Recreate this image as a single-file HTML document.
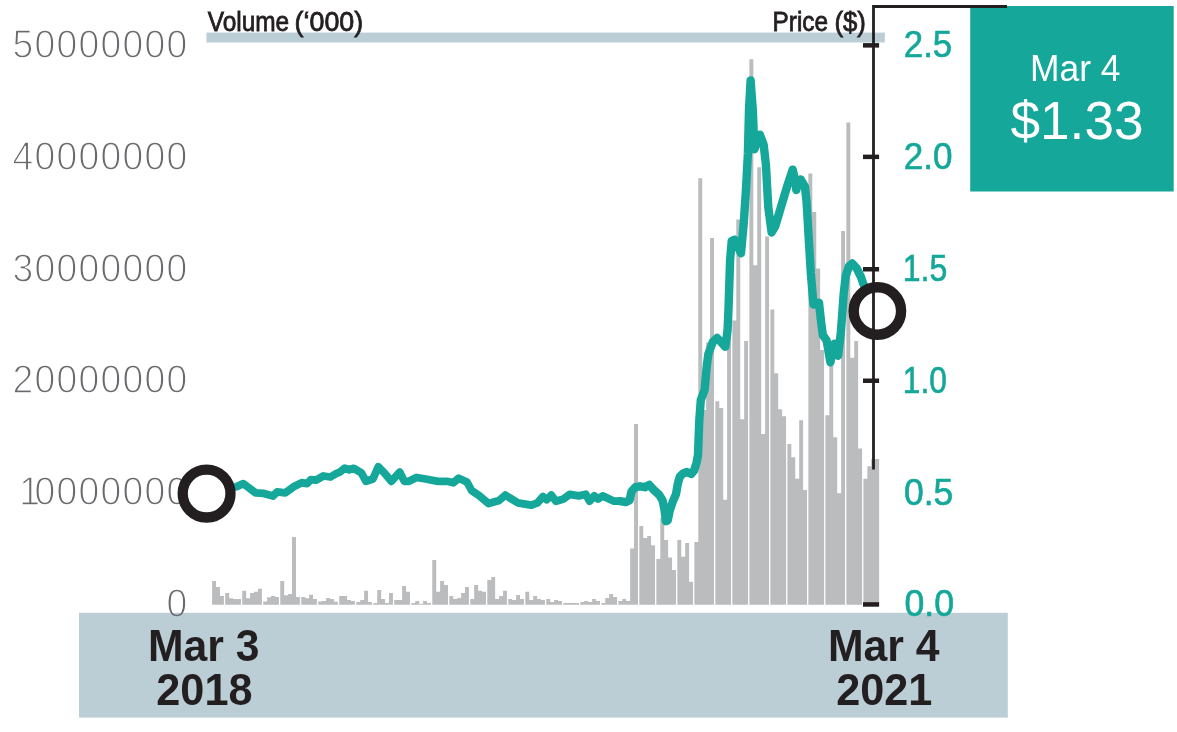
<!DOCTYPE html>
<html lang="en"><head><meta charset="utf-8"><title>Share price chart</title>
<style>html,body{margin:0;padding:0;background:#fff;}body{width:1177px;height:732px;overflow:hidden;font-family:"Liberation Sans",sans-serif;}</style>
</head><body>
<svg width="1177" height="732" viewBox="0 0 1177 732" style="display:block;font-family:'Liberation Sans',sans-serif">
<rect width="1177" height="732" fill="#fff"/>
<rect x="206.5" y="32.6" width="678.3" height="9.9" fill="#bbcdd5" transform="scale(1)"/>
<rect x="79" y="612.8" width="928.8" height="104.8" fill="#bbcdd5"/>
<g stroke="#fff"><text  transform="translate(12.6,57.9) scale(0.91,1)" font-size="41" fill="#696a6d" stroke-width="1.3" textLength="191.88" lengthAdjust="spacing">50000000</text></g>
<g stroke="#fff"><text  transform="translate(12.6,169.7) scale(0.91,1)" font-size="41" fill="#696a6d" stroke-width="1.3" textLength="191.88" lengthAdjust="spacing">40000000</text></g>
<g stroke="#fff"><text  transform="translate(12.6,281.5) scale(0.91,1)" font-size="41" fill="#696a6d" stroke-width="1.3" textLength="191.88" lengthAdjust="spacing">30000000</text></g>
<g stroke="#fff"><text  transform="translate(12.6,393.3) scale(0.91,1)" font-size="41" fill="#696a6d" stroke-width="1.3" textLength="191.88" lengthAdjust="spacing">20000000</text></g>
<text transform="translate(19.2,505.1) scale(0.91,1)" font-size="41" fill="#696a6d" stroke="#fff" stroke-width="1.3"><tspan x="0">1</tspan><tspan x="16.92" textLength="167.73" lengthAdjust="spacing">0000000</tspan></text>
<linearGradient id="zg" gradientUnits="userSpaceOnUse" x1="0" y1="-40" x2="0" y2="10"><stop offset="0.7220" stop-color="#fff"/><stop offset="0.7220" stop-color="#bbcdd5"/></linearGradient>
<g stroke="url(#zg)"><text  transform="translate(166.6,616.7) scale(0.91,1)" font-size="41" fill="#696a6d" stroke-width="1.3" textLength="22.80" lengthAdjust="spacing">0</text></g>
<g fill="#bbbcbe">
<path d="M212.10,604.8V580.9H216.03V587.0H219.95V595.9H223.88V604.8Z"/>
<path d="M225.21,604.8V592.9H229.14V598.2H233.06V599.0H236.99V599.0H240.92V604.8Z"/>
<path d="M242.25,604.8V590.8H246.18V598.2H250.10V592.9H254.03V591.8H257.96V588.8H261.88V604.8Z"/>
<path d="M263.21,604.8V601.4H267.14V597.3H271.07V595.9H275.00V596.9H278.92V604.8Z"/>
<path d="M280.25,604.8V580.9H284.18V595.2H288.11V594.1H292.03V536.9H295.96V596.9H299.89V604.8Z"/>
<path d="M301.22,604.8V596.9H305.14V598.2H309.07V594.8H313.00V599.0H316.93V604.8Z"/>
<path d="M318.25,604.8V601.4H322.18V601.1H326.11V598.0H330.04V599.0H333.96V601.8H337.89V604.8Z"/>
<path d="M339.22,604.8V595.9H343.15V595.9H347.07V600.0H351.00V601.0H354.93V604.8Z"/>
<path d="M356.26,604.8V602.0H360.19V600.0H364.11V590.8H368.04V602.0H371.97V604.8Z"/>
<path d="M373.30,604.8V603.1H377.22V590.0H381.15V599.0H385.08V603.0H389.00V592.9H392.93V604.8Z"/>
<path d="M394.26,604.8V600.0H398.19V600.0H402.12V585.9H406.04V591.8H409.97V604.8Z"/>
<path d="M411.30,604.8V603.0H415.23V601.1H419.15V603.8H423.08V601.1H427.01V603.0H430.93V604.8Z"/>
<path d="M432.26,604.8V560.0H436.19V591.8H440.12V580.9H444.05V585.0H447.97V604.8Z"/>
<path d="M449.30,604.8V595.9H453.23V599.0H457.16V597.9H461.08V592.9H465.01V587.0H468.94V604.8Z"/>
<path d="M470.27,604.8V599.0H474.19V585.0H478.12V590.8H482.05V591.8H485.98V604.8Z"/>
<path d="M487.31,604.8V579.9H491.23V576.9H495.16V599.0H499.09V595.9H503.01V590.8H506.94V604.8Z"/>
<path d="M508.27,604.8V599.0H512.20V600.0H516.12V594.9H520.05V599.0H523.98V604.8Z"/>
<path d="M525.31,604.8V591.8H529.24V600.0H533.16V595.9H537.09V599.0H541.02V600.0H544.94V604.8Z"/>
<path d="M546.27,604.8V599.0H550.20V602.0H554.13V600.0H558.05V601.1H561.98V604.8Z"/>
<path d="M563.31,604.8V603.0H567.24V603.0H571.17V603.0H575.09V603.0H579.02V604.8Z"/>
<path d="M580.35,604.8V602.0H584.28V601.1H588.20V602.0H592.13V599.0H596.06V601.1H599.98V604.8Z"/>
<path d="M601.31,604.8V603.0H605.24V597.9H609.17V594.1H613.10V596.9H617.02V604.8Z"/>
<path d="M618.35,604.8V601.1H622.28V599.0H626.21V601.1H630.13V548.5H634.06V424.0H637.99V604.8Z"/>
<path d="M639.32,604.8V526.0H643.24V537.9H647.17V535.9H651.10V545.2H655.03V604.8Z"/>
<path d="M656.35,604.8V558.9H660.28V518.0H664.21V540.1H668.14V557.4H672.06V570.0H675.99V604.8Z"/>
<path d="M677.32,604.8V540.1H681.25V556.7H685.17V543.0H689.10V581.7H693.03V604.8Z"/>
<path d="M694.36,604.8V541.9H698.29V178.3H702.21V410.1H706.14V342.5H710.07V238.0H713.99V604.8Z"/>
<path d="M715.32,604.8V401.3H719.25V407.9H723.18V499.8H727.10V329.5H731.03V604.8Z"/>
<path d="M732.36,604.8V320.5H736.29V219.5H740.22V419.2H744.14V341.1H748.07V604.8Z"/>
<path d="M749.40,604.8V59.2H753.33V265.2H757.25V167.2H761.18V434.0H765.11V236.5H769.03V604.8Z"/>
<path d="M770.36,604.8V309.5H774.29V373.2H778.22V409.2H782.15V416.3H786.07V604.8Z"/>
<path d="M787.40,604.8V444.0H791.33V457.2H795.26V478.8H799.18V420.3H803.11V489.9H807.04V604.8Z"/>
<path d="M808.37,604.8V173.4H812.29V212.1H816.22V268.5H820.15V349.9H824.08V604.8Z"/>
<path d="M825.40,604.8V415.2H829.33V363.2H833.26V437.3H837.19V493.2H841.11V230.9H845.04V604.8Z"/>
<path d="M846.37,604.8V122.5H850.30V357.7H854.22V341.1H858.15V448.4H862.08V604.8Z"/>
<path d="M863.41,604.8V478.8H867.34V466.2H871.26V459.0H875.19V459.0H879.12V604.8Z"/>
</g>
<path d="M207.0,494.0 L236.1,486.8 L243.3,483.7 L249.0,487.8 L255.6,492.9 L263.8,493.4 L273.0,496.0 L277.1,491.9 L285.3,492.9 L293.5,486.8 L301.7,482.7 L306.9,483.7 L311.0,479.6 L316.1,480.1 L323.3,476.0 L330.4,477.0 L336.6,473.4 L340.0,472.1 L344.6,468.3 L349.2,469.8 L353.8,468.3 L361.4,472.9 L366.0,481.3 L372.9,479.0 L378.3,466.7 L384.4,472.9 L391.3,481.3 L399.7,472.1 L404.3,481.3 L408.9,481.3 L416.5,477.5 L425.7,479.0 L438.0,481.3 L447.1,481.3 L453.3,482.8 L458.6,478.2 L467.0,482.0 L471.6,490.5 L479.3,495.8 L488.5,503.5 L499.2,500.4 L505.3,495.1 L511.4,498.9 L517.7,502.8 L531.4,505.1 L537.6,502.8 L542.9,496.6 L546.7,499.7 L551.3,495.1 L555.9,501.2 L563.6,498.9 L569.7,494.3 L578.9,495.9 L585.8,494.3 L589.6,501.2 L594.2,495.9 L598.0,498.9 L602.6,495.9 L614.1,501.2 L620.0,501.1" fill="none" stroke="#14a79a" stroke-width="7.8" stroke-linejoin="round" stroke-linecap="round"/>
<path d="M620.0,501.1 L625.7,502.1 L629.6,500.2 L631.5,491.5 L635.3,487.2 L640.1,486.3 L644.9,487.2 L649.2,484.9 L653.5,489.6 L659.2,494.9 L662.5,500.2 L664.5,509.7 L665.9,521.2 L667.8,520.2 L669.7,510.7 L672.6,502.1 L675.9,494.4 L677.8,483.9 L679.8,476.7 L683.1,473.4 L686.9,472.0 L691.2,473.9 L694.1,470.5 L696.5,462.9 L698.0,455.0 L699.3,420.0 L700.8,400.0 L704.6,390.0 L706.8,365.9 L708.4,353.9 L712.8,341.9 L717.2,338.0 L725.4,346.8 L727.5,330.9 L728.4,312.0 L730.1,260.0 L731.7,241.2 L734.4,239.6 L741.0,253.2 L743.7,223.7 L745.9,190.9 L747.9,153.7 L749.0,110.0 L750.6,80.5 L752.8,110.0 L754.4,149.3 L759.9,134.6 L763.7,145.0 L765.9,164.6 L768.3,207.3 L771.6,232.5 L775.4,225.9 L780.9,207.3 L787.4,185.5 L792.7,169.6 L795.2,181.0 L796.3,190.0 L797.6,184.0 L800.7,179.5 L804.9,186.6 L806.6,201.9 L808.2,229.2 L810.8,272.8 L813.5,304.5 L819.0,302.8 L821.1,321.9 L822.8,335.0 L826.6,340.4 L830.4,362.3 L834.3,343.7 L838.1,355.7 L840.8,332.8 L842.5,310.9 L843.6,294.6 L845.7,276.1 L849.0,266.2 L852.3,263.5 L856.7,268.4 L861.0,277.2 L863.2,283.7 L877.0,311.0" fill="none" stroke="#14a79a" stroke-width="8.4" stroke-linejoin="round" stroke-linecap="round"/>
<text x="903.8" y="56.6" font-size="36" fill="#14a79a" stroke="#14a79a" stroke-width="0.6" textLength="48.4" lengthAdjust="spacingAndGlyphs">2.5</text>
<text x="903.8" y="168.7" font-size="36" fill="#14a79a" stroke="#14a79a" stroke-width="0.6" textLength="48.7" lengthAdjust="spacingAndGlyphs">2.0</text>
<text x="902.8" y="280.6" font-size="36" fill="#14a79a" stroke="#14a79a" stroke-width="0.6" textLength="44.5" lengthAdjust="spacingAndGlyphs">1.5</text>
<text x="902.8" y="392.6" font-size="36" fill="#14a79a" stroke="#14a79a" stroke-width="0.6" textLength="44" lengthAdjust="spacingAndGlyphs">1.0</text>
<text x="904.1" y="504.6" font-size="36" fill="#14a79a" stroke="#14a79a" stroke-width="0.6" textLength="49.2" lengthAdjust="spacingAndGlyphs">0.5</text>
<text x="904.4" y="615.7" font-size="36" fill="#14a79a" stroke="#14a79a" stroke-width="0.6" textLength="49.6" lengthAdjust="spacingAndGlyphs">0.0</text>
<text y="31.3" font-size="27.8" fill="#231f20" stroke="#231f20" stroke-width="0.8"><tspan x="207.7" textLength="81.5" lengthAdjust="spacingAndGlyphs">Volume</tspan> <tspan x="294.6" textLength="68.6" lengthAdjust="spacingAndGlyphs">(‘000)</tspan></text>
<text y="31.3" font-size="27.8" fill="#231f20" stroke="#231f20" stroke-width="0.8"><tspan x="772.6" textLength="55.5" lengthAdjust="spacingAndGlyphs">Price</tspan> <tspan x="834.4" textLength="31.5" lengthAdjust="spacingAndGlyphs">($)</tspan></text>
<rect x="970.2" y="6" width="203.5" height="185.5" fill="#14a79a"/>
<text x="1030" y="80.6" font-size="36.5" fill="#fff" textLength="90.5" lengthAdjust="spacingAndGlyphs">Mar 4</text>
<text x="1010.5" y="138.8" font-size="54" fill="#fff" textLength="133" lengthAdjust="spacingAndGlyphs">$1.33</text>
<circle cx="206.6" cy="493.6" r="23.9" fill="#fff" stroke="#231f20" stroke-width="10.3"/>
<circle cx="877.4" cy="311" r="23.7" fill="#fff" stroke="#231f20" stroke-width="10.4"/>
<path d="M873.5,469.5 V6.5 H1007" fill="none" stroke="#231f20" stroke-width="2.8"/>
<rect x="863" y="43.1" width="16.1" height="4.5" fill="#231f20"/>
<rect x="863" y="154.6" width="16.1" height="4.5" fill="#231f20"/>
<rect x="863" y="267.0" width="16.1" height="4.5" fill="#231f20"/>
<rect x="863" y="378.5" width="16.1" height="4.5" fill="#231f20"/>
<rect x="863" y="602.2" width="16.1" height="4.5" fill="#231f20"/>
<text x="148" y="661.4" font-size="45" font-weight="bold" fill="#231f20" textLength="111.5" lengthAdjust="spacingAndGlyphs">Mar 3</text>
<text x="156.3" y="704.7" font-size="45" font-weight="bold" fill="#231f20" textLength="96.2" lengthAdjust="spacingAndGlyphs">2018</text>
<text x="828" y="661.4" font-size="45" font-weight="bold" fill="#231f20" textLength="111.6" lengthAdjust="spacingAndGlyphs">Mar 4</text>
<text x="836.2" y="704.7" font-size="45" font-weight="bold" fill="#231f20" textLength="96.2" lengthAdjust="spacingAndGlyphs">2021</text>
</svg>
</body></html>
